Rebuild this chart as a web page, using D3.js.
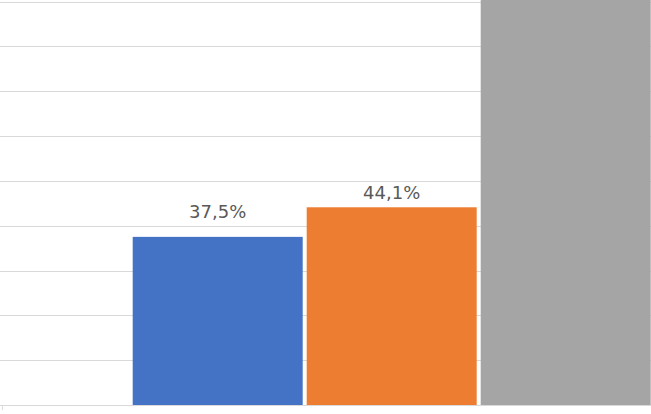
<!DOCTYPE html>
<html>
<head>
<meta charset="utf-8">
<script src="https://cdn.jsdelivr.net/npm/d3@7"></script>
<style>
  html, body { margin: 0; padding: 0; background: #fff; }
  svg { display: block; }
</style>
</head>
<body>
<svg id="chart" width="651" height="414"></svg>
<script>
// Data
const categories = ["A", "B", "C"];
const values = [37.5, 44.1, 95];
const labels = ["37,5%", "44,1%", ""];
const colors = ["#4472C4", "#ED7D31", "#A5A5A5"];
const tickValues = [0, 10, 20, 30, 40, 50, 60, 70, 80, 90];

const W = 651, H = 414;
const svg = d3.select("#chart");

const y = d3.scaleLinear().domain([0, 90]).range([405, 1.5]);
const x = d3.scaleBand().domain(categories).range([132.7, 650.7]).paddingInner(0.023).paddingOuter(0);

// Gridlines
svg.append("g")
  .selectAll("line")
  .data(tickValues.filter(d => d > 0))
  .join("line")
  .attr("x1", 0).attr("x2", W)
  .attr("y1", d => Math.round(y(d)) + 0.5)
  .attr("y2", d => Math.round(y(d)) + 0.5)
  .attr("stroke", "#d9d9d9")
  .attr("stroke-width", 1);

// Bars
const barData = categories.map((c, i) => ({ c, v: values[i], label: labels[i], color: colors[i], i }));
svg.append("g")
  .selectAll("rect")
  .data(barData)
  .join("rect")
  .attr("x", d => x(d.c))
  .attr("width", x.bandwidth())
  .attr("y", d => y(d.v))
  .attr("height", d => y(0) - y(d.v))
  .attr("fill", d => d.color);

// Axis baseline
svg.append("line")
  .attr("x1", 0).attr("x2", W)
  .attr("y1", Math.round(y(0)) + 0.5).attr("y2", Math.round(y(0)) + 0.5)
  .attr("stroke", "#d9d9d9").attr("stroke-width", 1);
svg.append("line")
  .attr("x1", 2.5).attr("x2", 2.5)
  .attr("y1", y(0)).attr("y2", y(0) + 5)
  .attr("stroke", "#d9d9d9").attr("stroke-width", 1);

// Labels
const labelGap = [19, 8, 8];
svg.append("g")
  .selectAll("text")
  .data(barData.filter(d => d.label))
  .join("text")
  .attr("x", d => x(d.c) + x.bandwidth() / 2)
  .attr("y", d => y(d.v) - labelGap[d.i])
  .attr("text-anchor", "middle")
  .attr("font-family", "DejaVu Sans, sans-serif")
  .attr("font-size", 18)
  .attr("fill", "#595959")
  .text(d => d.label);
</script>
</body>
</html>
